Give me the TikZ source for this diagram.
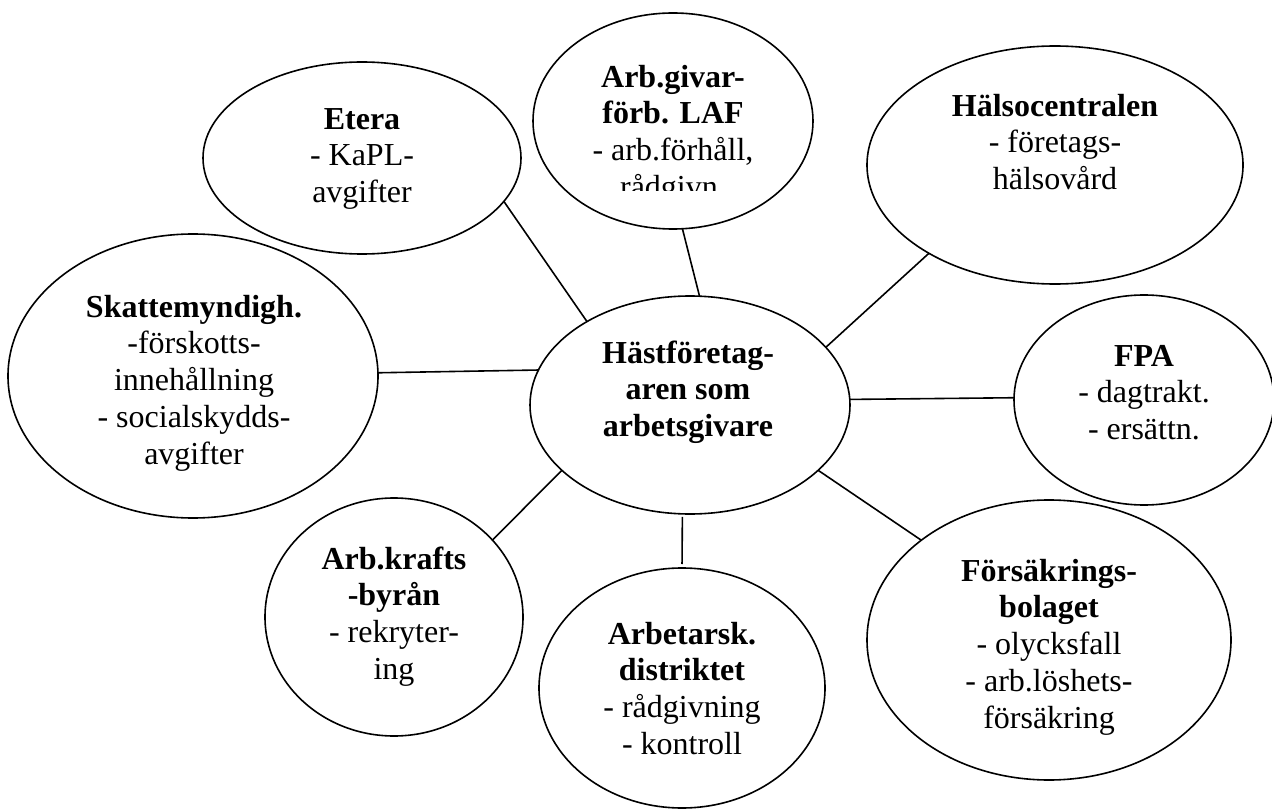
\documentclass[tikz,border=0pt]{standalone}
\usepackage{fontspec}
\setmainfont{Liberation Serif}
\usetikzlibrary{shapes.geometric}
\tikzset{
  bubble/.style={draw, ellipse, line width=1.6pt, inner sep=0pt, outer sep=0pt},
  lbl/.style={align=center, font=\fontsize{32}{36.8}\selectfont, inner sep=0pt, anchor=north},
  link/.style={line width=1.6pt}
}
\begin{document}
\begin{tikzpicture}[x=1pt,y=-1pt]
\fill[white] (0,0) rectangle (1272,810);
\useasboundingbox (0,0) rectangle (1272,810);

\node[bubble, minimum width=320pt, minimum height=218pt] (hub) at (690,405) {};
\node[bubble, minimum width=318pt, minimum height=192pt] (etera) at (362,158) {};
\node[bubble, minimum width=280pt, minimum height=216pt] (laf) at (673,121) {};
\node[bubble, minimum width=376pt, minimum height=238pt] (halso) at (1055,165) {};
\node[bubble, minimum width=370pt, minimum height=284pt] (skatt) at (193,376) {};
\node[bubble, minimum width=260pt, minimum height=210pt] (fpa) at (1144,400) {};
\node[bubble, minimum width=364pt, minimum height=280pt] (forsak) at (1049,640) {};
\node[bubble, minimum width=258pt, minimum height=238pt] (krafts) at (394,617) {};
\node[bubble, minimum width=286pt, minimum height=240pt] (arbsk) at (682,688) {};

\node[lbl] (hubT) at (688,337.2) {\strut\bfseries Hästföretag-\\\strut\bfseries aren som\\\strut\bfseries arbetsgivare};
\node[lbl] (eteraT) at (362,103.2) {\strut\bfseries Etera\\\strut - KaPL-\\\strut avgifter};
\begin{scope}
\clip (500,0) rectangle (850,191);
\node[lbl] (lafT) at (673,61.2) {\strut\bfseries Arb.givar-\\\strut\bfseries förb. LAF\\\strut - arb.förhåll,\\\strut rådgivn.};
\end{scope}
\node[lbl] (halsoT) at (1055,90.2) {\strut\bfseries Hälsocentralen\\\strut - företags-\\\strut hälsovård};
\node[lbl] (skattT) at (194,291.2) {\strut\bfseries Skattemyndigh.\\\strut -förskotts-\\\strut innehållning\\\strut - socialskydds-\\\strut avgifter};
\node[lbl] (fpaT) at (1144,340.2) {\strut\bfseries FPA\\\strut - dagtrakt.\\\strut - ersättn.};
\node[lbl] (forsakT) at (1049,555.2) {\strut\bfseries Försäkrings-\\\strut\bfseries bolaget\\\strut - olycksfall\\\strut - arb.löshets-\\\strut försäkring};
\node[lbl] (kraftsT) at (394,543.2) {\strut\bfseries Arb.krafts\\\strut\bfseries -byrån\\\strut - rekryter-\\\strut ing};
\node[lbl] (arbskT) at (682,618.2) {\strut\bfseries Arbetarsk.\\\strut\bfseries distriktet\\\strut - rådgivning\\\strut - kontroll};

\draw[link] (etera.-17.4) -- (hub.141.7);
\draw[link] (laf.-85.1) -- (hub.85.7);
\draw[link] (halso.-145.7) -- (hub.23.1);
\draw[link] (skatt.1.3) -- (hub.167.7);
\draw[link] (hub.2.5) -- (fpa.179.1);
\draw[link] (hub.-27.3) -- (forsak.142.9);
\draw[link] (hub.-153.8) -- (krafts.38.9);
\draw[link, shorten <=3pt, shorten >=4pt] (hub.-94.2) -- (arbsk.90);
\end{tikzpicture}
\end{document}
